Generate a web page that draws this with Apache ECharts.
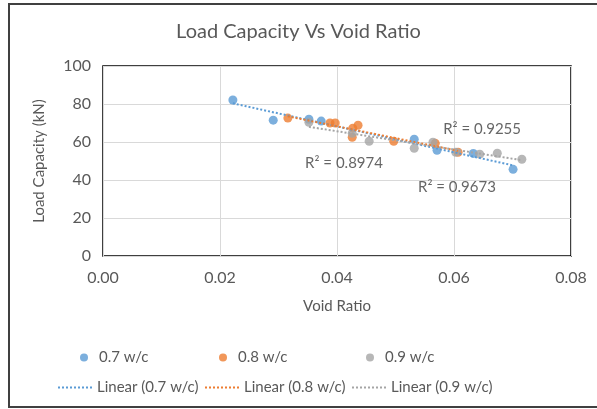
<!DOCTYPE html>
<html><head><meta charset="utf-8">
<script src="https://cdn.jsdelivr.net/npm/echarts@6/dist/echarts.min.js"></script>
<style>html,body{margin:0;padding:0;background:#fff}#c{width:597px;height:409px}</style>
</head><body><div id="c"></div>
<script>
var title = 'Load Capacity Vs Void Ratio';
var xTicks = ['0.00','0.02','0.04','0.06','0.08'];
var seriesNames = ['0.7 w/c','0.8 w/c','0.9 w/c'];
var trendNames = ['Linear (0.7 w/c)','Linear (0.8 w/c)','Linear (0.9 w/c)'];
var void07 = [0.0222,0.0291,0.0352,0.0373,0.0532,0.0571,0.0633,0.0701];
var load07 = [82.1,71.5,72.0,71.0,61.5,55.6,54.0,45.6];
var void08 = [0.0316,0.0388,0.0397,0.0427,0.0436,0.0426,0.0497,0.0568,0.0607];
var load08 = [72.6,70.0,70.0,67.3,68.8,62.5,60.4,59.3,54.6];
var void09 = [0.0352,0.0426,0.0455,0.0532,0.0564,0.0603,0.0644,0.0674,0.0716];
var load09 = [70.4,64.6,60.4,56.7,59.9,54.6,53.6,54.1,50.9];
var r2Labels = ['R² = 0.9673','R² = 0.8974','R² = 0.9255'];
var r2Pos = [[0.0605,36.1],[0.0412,48.8],[0.0648,66.5]];
var colors = ['#5B9BD5','#ED7D31','#A5A5A5'];

function pairs(xs, ys){ return xs.map(function(x,i){return [x, ys[i]];}); }
function fit(xs, ys){
  var n=xs.length, sx=0, sy=0, sxx=0, sxy=0;
  for(var i=0;i<n;i++){sx+=xs[i];sy+=ys[i];sxx+=xs[i]*xs[i];sxy+=xs[i]*ys[i];}
  var b=(n*sxy-sx*sy)/(n*sxx-sx*sx), a=(sy-b*sx)/n;
  var mn=Math.min.apply(null,xs), mx=Math.max.apply(null,xs);
  return [[mn,a+b*mn],[mx,a+b*mx]];
}
var sets = [[void07,load07],[void08,load08],[void09,load09]];
var font = 'Lato, "Open Sans", sans-serif';
var series = [];
sets.forEach(function(s,i){
  series.push({name:seriesNames[i], type:'scatter', data:pairs(s[0],s[1]), symbolSize:9,
    itemStyle:{color:colors[i]}, z:3});
});
sets.forEach(function(s,i){
  series.push({name:trendNames[i], type:'line', data:fit(s[0],s[1]), symbol:'none', showSymbol:false,
    lineStyle:{color:colors[i], width:2, type:[2,2]}, itemStyle:{color:colors[i]}, z:4});
});
series.push({type:'scatter', data:r2Pos, symbolSize:0, silent:true, z:5,
  label:{show:true, position:'inside', color:'#404040', fontSize:15, fontFamily:font,
    formatter:function(p){return r2Labels[p.dataIndex];}}});

var dotPath = 'path://';
for (var k=0;k<9;k++){ dotPath += 'M'+(k*4)+',0h2v2h-2z'; }

var legends = [];
var l1x=[75,214,361], l2x=[53,200,347];
seriesNames.forEach(function(n,i){
  legends.push({data:[n], left:l1x[i], top:345, itemWidth:8, itemHeight:8, itemGap:0,
    icon:'circle', textStyle:{color:'#595959', fontSize:15, fontFamily:font, padding:[0,0,0,6]}});
});
trendNames.forEach(function(n,i){
  legends.push({data:[{name:n, icon:dotPath}], left:l2x[i], top:375, itemWidth:34, itemHeight:2, itemGap:0,
    textStyle:{color:'#595959', fontSize:15, fontFamily:font}});
});

var chart = echarts.init(document.getElementById('c'));
chart.setOption({
  animation:false,
  color:colors,
  title:{text:title, left:'center', top:17, textStyle:{color:'#595959', fontSize:20, fontWeight:'normal', fontFamily:font}},
  grid:{left:103, top:66, right:26, bottom:153, show:true, borderColor:'#000', borderWidth:1.5},
  xAxis:{type:'value', min:0, max:0.08, interval:0.02, name:'Void Ratio', nameLocation:'middle', nameGap:43,
    nameTextStyle:{color:'#595959', fontSize:15, fontFamily:font},
    axisLine:{show:false}, axisTick:{show:false},
    axisLabel:{color:'#595959', fontSize:16, fontFamily:font, margin:14, formatter:function(v){return xTicks[Math.round(v/0.02)];}},
    splitLine:{show:true, lineStyle:{color:'#D9D9D9', width:1}}},
  yAxis:{type:'value', min:0, max:100, interval:20, name:'Load Capacity (kN)', nameLocation:'middle', nameGap:56,
    nameTextStyle:{color:'#595959', fontSize:15, fontFamily:font},
    axisLine:{show:false}, axisTick:{show:false},
    axisLabel:{color:'#595959', fontSize:16, fontFamily:font, margin:12},
    splitLine:{show:true, lineStyle:{color:'#D9D9D9', width:1}}},
  legend:legends,
  graphic:[{type:'rect', shape:{x:9,y:4,width:600,height:403}, style:{fill:'none', stroke:'#404040', lineWidth:2}, silent:true}],
  series:series
});
</script></body></html>
